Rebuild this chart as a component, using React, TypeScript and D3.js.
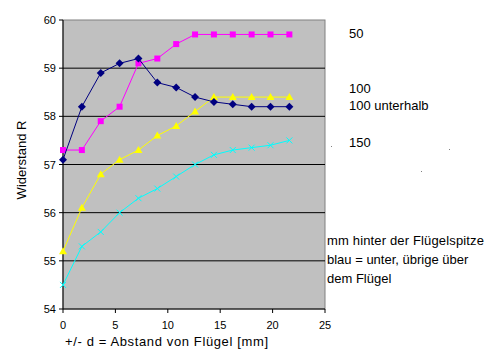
import React from "react";
import * as d3 from "d3";

const xValues = [0, 1.8, 3.6, 5.4, 7.2, 9.0, 10.8, 12.6, 14.4, 16.2, 18.0, 19.8, 21.6];
const series50 = [57.3, 57.3, 57.9, 58.2, 59.1, 59.2, 59.5, 59.7, 59.7, 59.7, 59.7, 59.7, 59.7];
const series100 = [55.2, 56.1, 56.8, 57.1, 57.3, 57.6, 57.8, 58.1, 58.4, 58.4, 58.4, 58.4, 58.4];
const series100u = [57.1, 58.2, 58.9, 59.1, 59.2, 58.7, 58.6, 58.4, 58.3, 58.25, 58.2, 58.2, 58.2];
const series150 = [54.5, 55.3, 55.6, 56.0, 56.3, 56.5, 56.75, 57.0, 57.2, 57.3, 57.35, 57.4, 57.5];
const xTicks = [0, 5, 10, 15, 20, 25];
const yTicks = [54, 55, 56, 57, 58, 59, 60];

const W = 486, H = 355;
const L = 63, R = 325, T = 20, B = 309;

export default function App() {
  const x = d3.scaleLinear().domain([0, 25]).range([L, R]);
  const y = d3.scaleLinear().domain([54, 60]).range([B, T]);
  const line = d3.line<number>().x((_, i) => x(xValues[i])).y((v) => y(v));
  const font = "Arial, 'Liberation Sans', sans-serif";

  const seriesList = [
    { data: series150, color: "#00FFFF", marker: "x" },
    { data: series100, color: "#FFFF00", marker: "tri" },
    { data: series50, color: "#FF00FF", marker: "sq" },
    { data: series100u, color: "#000080", marker: "dia" },
  ];

  const marker = (m: string, cx: number, cy: number, c: string, k: string) => {
    if (m === "sq") return <rect key={k} x={cx - 3} y={cy - 3} width={6} height={6} fill={c} />;
    if (m === "tri") return <path key={k} d={`M${cx},${cy - 4}L${cx + 4},${cy + 3}L${cx - 4},${cy + 3}Z`} fill={c} />;
    if (m === "dia") return <path key={k} d={`M${cx},${cy - 4}L${cx + 4},${cy}L${cx},${cy + 4}L${cx - 4},${cy}Z`} fill={c} />;
    return (
      <g key={k} stroke={c} strokeWidth={1}>
        <line x1={cx - 3} y1={cy - 3} x2={cx + 3} y2={cy + 3} />
        <line x1={cx - 3} y1={cy + 3} x2={cx + 3} y2={cy - 3} />
      </g>
    );
  };

  return (
    <svg width={W} height={H} style={{ position: "absolute", left: 0, top: 0, background: "#fff" }}>
      <rect x={L} y={T} width={R - L} height={B - T} fill="#C0C0C0" stroke="#808080" strokeWidth={1} />
      {yTicks.filter((t) => t > 54 && t < 60).map((t) => (
        <line key={t} x1={L} x2={R} y1={y(t)} y2={y(t)} stroke="#000" strokeWidth={1} />
      ))}
      <line x1={L} x2={L} y1={T} y2={B} stroke="#000" />
      <line x1={L} x2={R} y1={B} y2={B} stroke="#000" />
      {yTicks.map((t) => (
        <g key={t}>
          <line x1={L - 4} x2={L} y1={y(t)} y2={y(t)} stroke="#000" />
          <text x={L - 7} y={y(t) + 4} textAnchor="end" fontSize={11} fontFamily={font}>{t}</text>
        </g>
      ))}
      {xTicks.map((t) => (
        <g key={t}>
          <line x1={x(t)} x2={x(t)} y1={B} y2={B + 4} stroke="#000" />
          <text x={x(t)} y={B + 20} textAnchor="middle" fontSize={11} fontFamily={font}>{t}</text>
        </g>
      ))}
      {seriesList.map((s, si) => (
        <g key={si}>
          <path d={line(s.data) || ""} fill="none" stroke={s.color} strokeWidth={1} />
          {s.data.map((v, i) => marker(s.marker, x(xValues[i]), y(v), s.color, `${si}-${i}`))}
        </g>
      ))}
      <text transform={`translate(26,160) rotate(-90)`} textAnchor="middle" fontSize={13} fontFamily={font}>Widerstand R</text>
      <text x={65} y={346} fontSize={13} fontFamily={font} textLength={203} lengthAdjust="spacing">+/- d =  Abstand von Flügel [mm]</text>
      <g fontSize={13} fontFamily={font}>
        <text x={349} y={38}>50</text>
        <text x={349} y={93}>100</text>
        <text x={349} y={110}>100 unterhalb</text>
        <text x={349} y={147}>150</text>
        <text x={327} y={245} textLength={157} lengthAdjust="spacing">mm hinter der Flügelspitze</text>
        <text x={327} y={264}>blau = unter, übrige über</text>
        <text x={327} y={283}>dem Flügel</text>
      </g>
      <g fill="#808080">
        <rect x={331} y={146} width={1} height={1} />
        <rect x={449} y={149} width={1} height={1} />
        <rect x={421} y={171} width={1} height={1} />
      </g>
    </svg>
  );
}
